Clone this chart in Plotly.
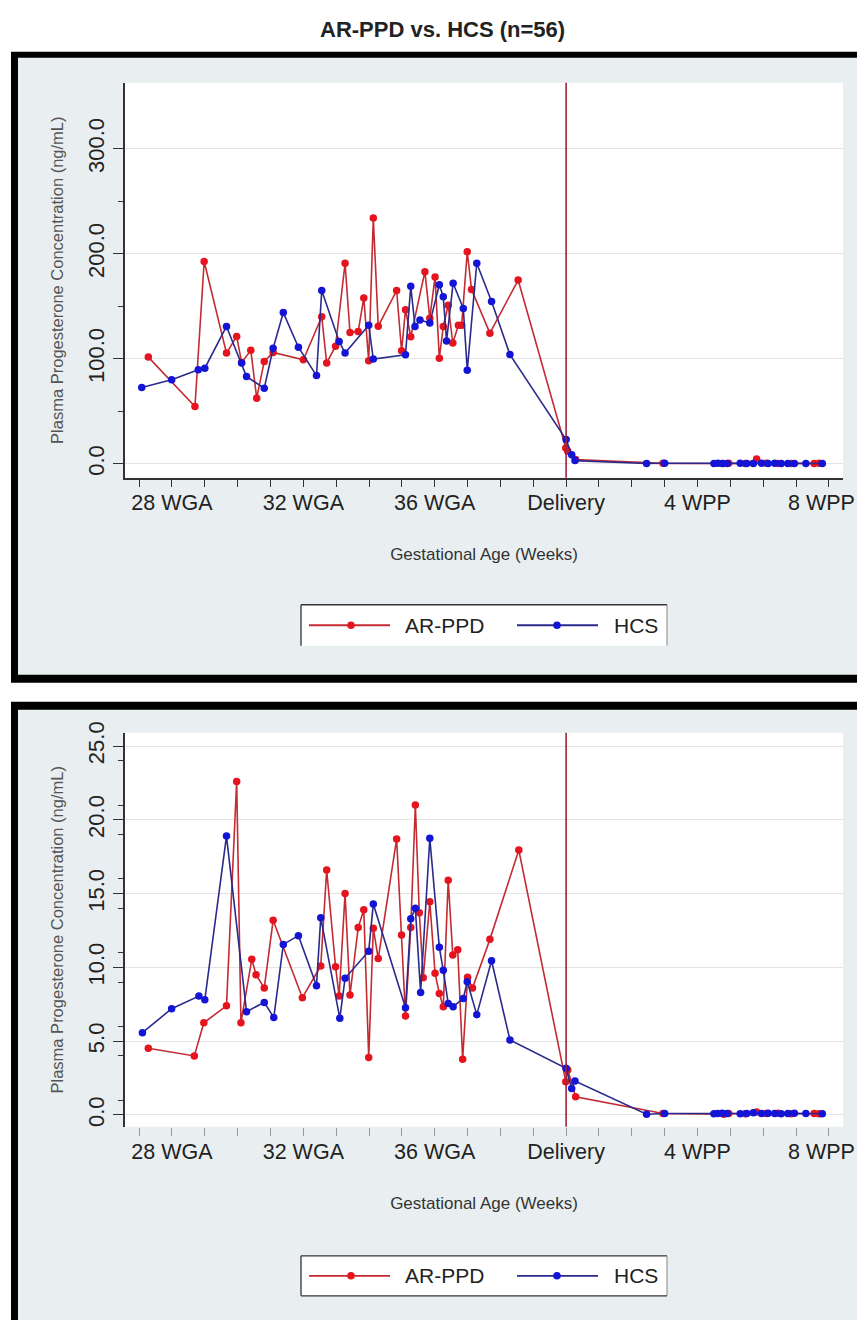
import plotly.graph_objects as go

# ---------------- data ----------------
tick_vals = [28, 32, 36, 40, 44, 48]
tick_text = ["28 WGA", "32 WGA", "36 WGA", "Delivery", "4 WPP", "8 WPP"]
delivery_week = 40
series_names = ["AR-PPD", "HCS"]

# Top panel (0-300 ng/mL scale)
ppd_top_weeks = [27.28, 28.70, 28.98, 29.66, 29.97, 30.12, 30.40, 30.58, 30.81, 31.08,
                 32.00, 32.56, 32.71, 32.98, 33.27, 33.42, 33.67, 33.84, 33.99, 34.13,
                 34.28, 34.84, 34.99, 35.11, 35.27, 35.70, 35.85, 36.01, 36.14, 36.26,
                 36.41, 36.55, 36.72, 36.82, 36.99, 37.12, 37.68, 38.54,
                 39.99, 40.05, 40.29, 42.95, 44.80, 44.95, 45.45, 45.80, 46.10, 46.45,
                 46.85, 47.55, 47.70]
ppd_top_vals = [101.6, 54.6, 192.7, 105.4, 121.3, 96.5, 108.0, 62.5, 97.5, 106.0,
                99.0, 140.0, 96.0, 112.0, 191.0, 125.0, 126.0, 158.0, 98.0, 234.0,
                131.0, 165.0, 107.6, 146.7, 121.0, 183.0, 138.7, 178.0, 100.6, 130.8,
                151.0, 115.0, 132.0, 132.0, 202.0, 166.0, 124.4, 175.0,
                15.0, 12.0, 4.0, 0.4, 0.3, 0.5, 0.3, 4.5, 0.4, 0.3,
                0.2, 0.3, 0.4]

hcs_top_weeks = [27.08, 27.99, 28.80, 29.00, 29.66, 30.12, 30.27, 30.81, 31.08, 31.39,
                 31.85, 32.40, 32.56, 33.09, 33.27, 33.99, 34.13, 35.11, 35.27, 35.40,
                 35.55, 35.85, 36.14, 36.26, 36.36, 36.56, 36.87, 36.99, 37.28, 37.73,
                 38.29,
                 40.00, 40.17, 40.27, 42.45, 43.00, 44.50, 44.62, 44.75, 44.90, 45.30,
                 45.50, 45.70, 45.95, 46.15, 46.35, 46.55, 46.75, 46.95, 47.30, 47.80]
hcs_top_vals = [72.7, 80.0, 89.5, 91.0, 130.8, 95.9, 83.0, 72.0, 110.0, 144.0,
                111.0, 84.0, 165.0, 116.5, 105.4, 132.0, 99.7, 103.8, 169.0, 130.8,
                137.0, 134.0, 170.5, 159.0, 117.0, 172.0, 148.0, 89.0, 191.0, 154.6,
                104.0,
                23.0, 8.6, 3.0, 0.3, 0.5, 0.3, 0.4, 0.2, 0.3, 0.4,
                0.3, 0.2, 0.5, 0.3, 0.4, 0.2, 0.3, 0.3, 0.2, 0.3]

# Bottom panel (0-25 ng/mL scale)
ppd_bot_weeks = [27.28, 28.68, 28.97, 29.66, 29.97, 30.10, 30.43, 30.56, 30.81, 31.08,
                 31.97, 32.53, 32.71, 32.98, 33.09, 33.27, 33.42, 33.67, 33.84, 33.99,
                 34.13, 34.28, 34.84, 34.99, 35.11, 35.27, 35.41, 35.53, 35.65, 35.85,
                 36.01, 36.14, 36.26, 36.41, 36.55, 36.70, 36.85, 37.00, 37.15, 37.68,
                 38.56,
                 39.99, 40.05, 40.29, 42.95, 44.80, 44.95, 45.45, 45.80, 46.10, 46.45,
                 46.85, 47.55, 47.70]
ppd_bot_vals = [4.52, 4.0, 6.25, 7.4, 22.6, 6.25, 10.55, 9.5, 8.6, 13.2,
                7.95, 10.1, 16.6, 10.05, 8.06, 15.0, 8.13, 12.7, 13.9, 3.9,
                12.65, 10.6, 18.7, 12.2, 6.7, 12.7, 21.0, 13.7, 9.3, 14.45,
                9.6, 8.24, 7.34, 15.9, 10.84, 11.2, 3.77, 9.33, 8.6, 11.9,
                17.95,
                2.26, 3.05, 1.24, 0.1, 0.05, 0.1, 0.08, 0.2, 0.1, 0.12,
                0.08, 0.1, 0.08]

hcs_bot_weeks = [27.10, 27.99, 28.82, 29.00, 29.66, 30.27, 30.81, 31.10, 31.39, 31.85,
                 32.40, 32.53, 33.11, 33.27, 33.99, 34.13, 35.11, 35.27, 35.41, 35.57,
                 35.85, 36.14, 36.26, 36.41, 36.56, 36.87, 36.99, 37.28, 37.73, 38.29,
                 40.00, 40.17, 40.27, 42.45, 43.00, 44.50, 44.62, 44.75, 44.90, 45.30,
                 45.50, 45.70, 45.95, 46.15, 46.35, 46.55, 46.75, 46.95, 47.30, 47.80]
hcs_bot_vals = [5.58, 7.2, 8.06, 7.8, 18.9, 7.0, 7.63, 6.6, 11.56, 12.15,
                8.76, 13.37, 6.55, 9.26, 11.1, 14.3, 7.27, 13.3, 14.0, 8.3,
                18.75, 11.36, 9.8, 7.56, 7.34, 7.9, 9.03, 6.8, 10.45, 5.08,
                3.16, 1.8, 2.3, 0.05, 0.1, 0.08, 0.1, 0.12, 0.1, 0.08,
                0.1, 0.15, 0.1, 0.12, 0.1, 0.08, 0.1, 0.12, 0.1, 0.08]

# ---------------- styling ----------------
# figure sized to fit inside the 865x1328 window (8px page margin)
W, H = 849, 1312
OFFX = 8
SY, OFFY = 0.9915, 19.5
RED_LINE, RED_MK = "#c42a32", "#e5141e"
BLUE_LINE, BLUE_MK = "#2a2a8c", "#1414d6"
PANEL_BG = "#e9eff1"
FONT = "Liberation Sans, Arial, sans-serif"


def px(x):
    """target pixel x -> paper fraction"""
    return min(max((x - OFFX) / W, -0.05), 1.0)


def py(y):
    """target pixel y (from top) -> paper fraction"""
    return min(max(1 - (y / SY - OFFY) / H, 0.0), 1.05)


fig = go.Figure()


def add_series(weeks, vals, name, lc, mc, xa, ya):
    fig.add_trace(go.Scatter(
        x=weeks, y=vals, name=name, mode="lines+markers", showlegend=False,
        line=dict(color=lc, width=1.6),
        marker=dict(color=mc, size=7.5, line=dict(width=0)),
        xaxis=xa, yaxis=ya))


add_series(ppd_top_weeks, ppd_top_vals, series_names[0], RED_LINE, RED_MK, "x", "y")
add_series(hcs_top_weeks, hcs_top_vals, series_names[1], BLUE_LINE, BLUE_MK, "x", "y")
add_series(ppd_bot_weeks, ppd_bot_vals, series_names[0], RED_LINE, RED_MK, "x2", "y2")
add_series(hcs_bot_weeks, hcs_bot_vals, series_names[1], BLUE_LINE, BLUE_MK, "x2", "y2")


def rect(x0, y0, x1, y1, fill, layer="below"):
    return dict(type="rect", xref="paper", yref="paper", layer=layer,
                x0=px(x0), x1=px(x1), y0=py(y1), y1=py(y0),
                fillcolor=fill, line=dict(width=0))


def seg(x0, y0, x1, y1, color, width=1.2, layer="above"):
    return dict(type="line", xref="paper", yref="paper", layer=layer,
                x0=px(x0), x1=px(x1), y0=py(y0), y1=py(y1),
                line=dict(color=color, width=width))


def dot(cx, cy, r, color):
    return dict(type="circle", xref="paper", yref="paper", layer="above",
                x0=px(cx - r), x1=px(cx + r), y0=py(cy + r), y1=py(cy - r),
                fillcolor=color, line=dict(width=0))


shapes = []
# panel frames (black border, light panel, white plot area)
for (top, bot) in [(52, 683), (702, 1340)]:
    shapes.append(rect(11, top, 870, bot, "black"))
for (top, bot) in [(58, 675), (710, 1324)]:
    shapes.append(rect(18, top, 870, bot, PANEL_BG))
for (top, bot) in [(83, 478), (733, 1127)]:
    shapes.append(rect(125, top, 843, bot, "white"))
# delivery lines
for xr, yr in [("x", "y domain"), ("x2", "y2 domain")]:
    shapes.append(dict(type="line", xref=xr, yref=yr, x0=delivery_week, x1=delivery_week,
                       y0=0, y1=1, line=dict(color="#9b2338", width=1.6)))

# custom legends (long line samples as in the original)
annotations = []
for (top, bot, full) in [(605, 646, False), (1256, 1296, True)]:
    mid = (top + bot) / 2
    shapes.append(rect(301, top, 667, bot, "white", layer="above"))
    shapes.append(seg(301, top, 667, top, "#333", 1.3))
    shapes.append(seg(301, top, 301, bot, "#333", 1.3))
    shapes.append(seg(667, top, 667, bot, "#888", 1.0))
    if full:
        shapes.append(seg(301, bot, 667, bot, "#333", 1.3))
    shapes.append(seg(309, mid, 390, mid, RED_LINE, 1.8))
    shapes.append(dot(351, mid, 3.8, RED_MK))
    shapes.append(seg(517, mid, 598, mid, BLUE_LINE, 1.8))
    shapes.append(dot(557, mid, 3.8, BLUE_MK))
    for name, xt in zip(series_names, [403, 612]):
        annotations.append(dict(text=name, xref="paper", yref="paper", x=px(xt), y=py(mid),
                                xanchor="left", yanchor="middle", showarrow=False,
                                font=dict(size=21, color="#222", family=FONT)))

annotations.append(dict(text="<b>AR-PPD vs. HCS (n=56)</b>", xref="paper", yref="paper",
                        x=px(442), y=1.0, xanchor="center", yanchor="top", yshift=4,
                        showarrow=False, font=dict(size=22, color="#222", family=FONT)))

# the last tick label sits at the window edge: draw it right-aligned inside the figure
for ydom in ["y domain", "y2 domain"]:
    annotations.append(dict(text=tick_text[-1], xref="paper", yref=ydom, x=1.0, y=0,
                            xanchor="right", yanchor="middle", yshift=-25, showarrow=False,
                            font=dict(size=21.5, color="#222", family=FONT)))

xdom = [px(125), px(843)]
xrange = [26.57, 48.43]
axis_text = tick_text[:-1] + [""]

common_x = dict(range=xrange, domain=xdom, tickmode="array", tickvals=tick_vals,
                ticktext=axis_text, ticks="outside", ticklen=8, tickwidth=1.3,
                tickfont=dict(size=21.5, color="#222", family=FONT),
                ticklabelstandoff=-3,
                showgrid=False, zeroline=False,
                title=dict(text="Gestational Age (Weeks)",
                           font=dict(size=17, color="#333", family=FONT), standoff=34))

common_y = dict(tickangle=-90, ticks="outside", ticklen=10, tickwidth=1.3, tickcolor="#333",
                tickfont=dict(size=22, color="#222", family=FONT),
                showline=True, linecolor="#333", linewidth=1.5,
                showgrid=True, gridcolor="#e4e4e4", gridwidth=1, zeroline=False,
                title=dict(text="Plasma Progesterone Concentration (ng/mL)",
                           font=dict(size=16.5, color="#555", family=FONT), standoff=17))

fig.update_layout(
    width=W, height=H, margin=dict(l=0, r=0, t=0, b=0),
    paper_bgcolor="white", plot_bgcolor="rgba(0,0,0,0)",
    font=dict(family=FONT, color="#222"),
    showlegend=False,
    shapes=shapes,
    annotations=annotations,
    xaxis=dict(**common_x, anchor="y", showline=True, linecolor="#333", linewidth=1.5,
               tickcolor="#333",
               minor=dict(tick0=27, dtick=1, ticks="outside", ticklen=8, tickcolor="#333",
                          tickwidth=1.3, showgrid=False)),
    yaxis=dict(**common_y, domain=[py(478), py(83)], range=[-13.3, 363], anchor="x",
               tickvals=[0, 100, 200, 300], ticktext=["0.0", "100.0", "200.0", "300.0"],
               minor=dict(tickvals=[50, 150, 250], ticks="outside", ticklen=5,
                          tickcolor="#333", showgrid=False)),
    xaxis2=dict(**common_x, anchor="y2", showline=False, tickcolor="#999",
                minor=dict(tick0=27, dtick=1, ticks="outside", ticklen=8, tickcolor="#999",
                           tickwidth=1.3, showgrid=False)),
    yaxis2=dict(**common_y, domain=[py(1127), py(733)], range=[-0.8, 25.9], anchor="x2",
                tickvals=[0, 5, 10, 15, 20, 25],
                ticktext=["0.0", "5.0", "10.0", "15.0", "20.0", "25.0"],
                minor=dict(tickvals=[1, 4, 6, 9, 11, 14, 16, 19, 21, 24], ticks="outside",
                           ticklen=5, tickcolor="#333", showgrid=False)),
)

fig.write_html("out.html")
